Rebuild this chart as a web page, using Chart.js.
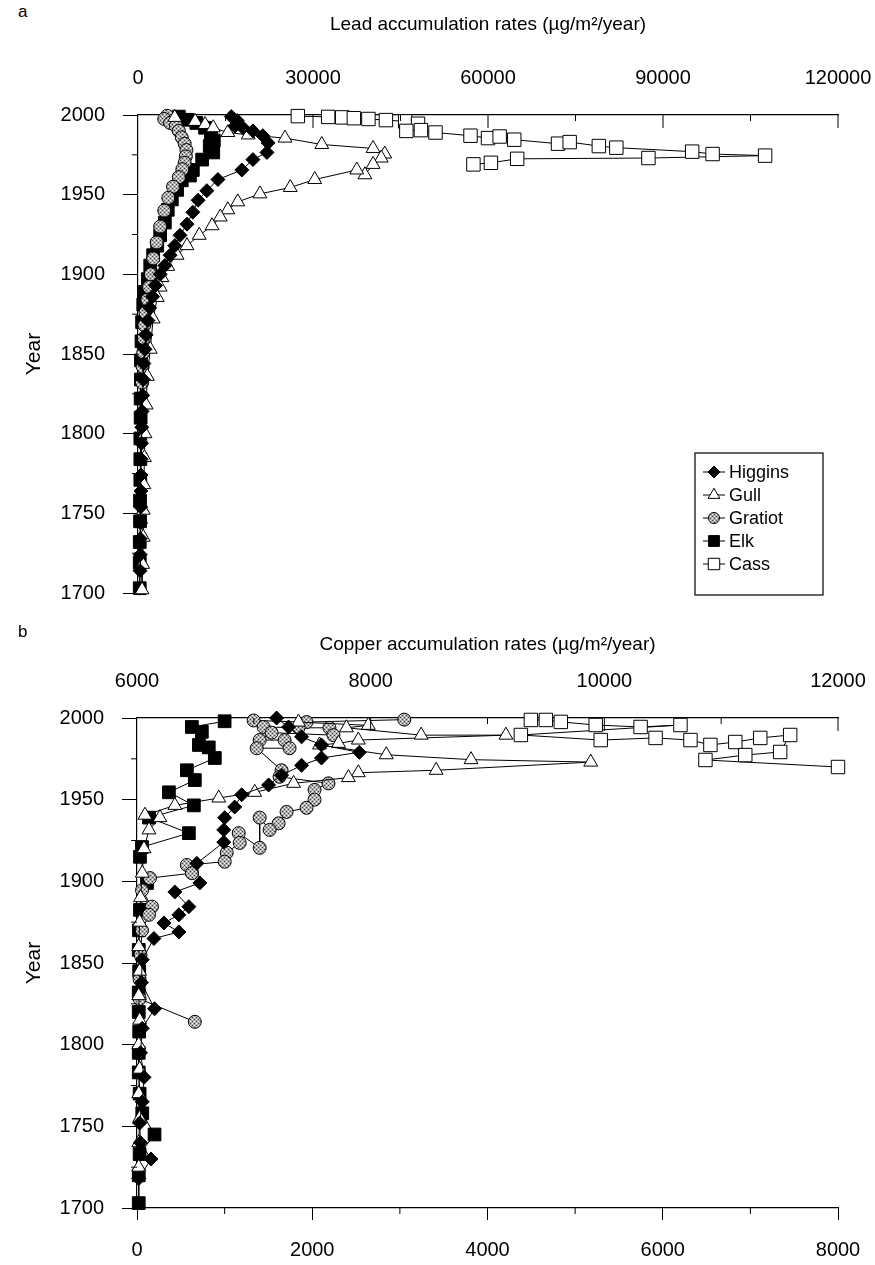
<!DOCTYPE html>
<html>
<head>
<meta charset="utf-8">
<script src="https://cdn.jsdelivr.net/npm/chart.js@4.4.1/dist/chart.umd.min.js"></script>
<style>
  html, body { margin: 0; padding: 0; background: #fff; }
  #page { position: relative; width: 875px; height: 1265px; font-family: "Liberation Sans", Arial, sans-serif; }
  #page canvas { position: absolute; left: 0; }
  .panel { position: absolute; left: 18px; font-size: 17px; color: #000; }
</style>
</head>
<body>
<div id="page">
  <div class="panel" style="top:2px">a</div>
  <canvas id="lead" width="875" height="625" style="top:0"></canvas>
  <div class="panel" style="top:622px">b</div>
  <canvas id="copper" width="875" height="640" style="top:625px"></canvas>
</div>
<script>
// ---- data: [rate, year] pairs ----
const seriesNames = ['Higgins', 'Gull', 'Gratiot', 'Elk', 'Cass'];

const leadHiggins = [[16000,1999],[17000,1996.5],[16600,1993],[18000,1992],[19700,1990],[21400,1987],[22300,1982.5],[22100,1976.5],[19700,1972],[17800,1965.5],[13700,1959.5],[11800,1952.5],[10300,1946.5],[9400,1939],[8400,1931.5],[7200,1924.5],[6300,1918],[5500,1912],[4600,1905.5],[3800,1900],[3000,1893],[2500,1886],[2000,1879],[1700,1871],[1400,1862],[1200,1853],[1000,1844],[900,1834],[800,1824],[700,1814],[650,1804],[600,1794],[550,1784],[500,1774],[500,1764],[450,1754],[450,1744],[400,1734],[400,1724],[350,1714]];
const leadGull = [[6300,1998.5],[9800,1996],[11500,1994],[12900,1992],[15400,1989],[18900,1987.5],[25200,1985.5],[31500,1981.5],[40300,1979],[42300,1975.5],[41700,1973],[40300,1969],[38900,1962.5],[37500,1965.5],[30300,1959.5],[26100,1954.5],[20900,1950.5],[17100,1945.5],[15400,1940.5],[14100,1936],[12700,1930.5],[10500,1924.5],[8400,1918],[6700,1912],[5100,1905],[4100,1898],[3800,1892],[3300,1885.5],[2600,1872],[2100,1853],[1600,1836],[1400,1818],[1200,1800],[1100,1785],[1000,1768],[900,1752],[900,1735],[800,1718],[700,1702]];
const leadGratiot = [[5000,1999.5],[4500,1997.5],[5500,1995],[6500,1993],[7000,1990],[7500,1986],[8000,1982],[8300,1978],[8200,1974],[8000,1970],[7600,1966],[7000,1961],[6000,1955],[5200,1948],[4500,1940],[3800,1930],[3200,1920],[2600,1910],[2200,1900],[1900,1892],[1600,1884],[1300,1876],[1100,1868],[1000,1860],[900,1851],[800,1842],[700,1832]];
const leadElk = [[7000,1999],[8500,1997],[10000,1995],[11500,1992],[12500,1988],[13000,1984],[12300,1980.5],[12900,1976.5],[11000,1972],[9400,1965.5],[8900,1962],[7500,1959],[6700,1953],[5800,1947],[5100,1940.5],[4600,1932.5],[3800,1924.5],[3300,1918],[2600,1912],[2100,1905.5],[1700,1897],[1200,1889],[900,1881],[700,1870],[600,1858],[500,1846],[500,1834],[450,1822],[450,1810],[400,1797],[400,1784],[400,1771],[350,1758],[350,1745],[300,1732],[300,1719],[300,1703]];
const leadCass = [[27400,1999.3],[32600,1998.8],[35000,1998.5],[37000,1998],[39500,1997.5],[42500,1996.8],[45800,1996],[48000,1994.5],[46000,1990],[48500,1990.5],[51000,1989],[57000,1987],[60000,1985.5],[62000,1986.5],[64500,1984.5],[72000,1982],[74000,1983],[79000,1980.5],[82000,1979.5],[95000,1977],[98500,1975.5],[107500,1974.5],[87500,1973],[65000,1972.5],[60500,1970],[57500,1969]];

const copperHiggins = [[1593,2000],[1730,1994.5],[1878,1988.5],[2105,1983.5],[2538,1979],[2105,1975.5],[1878,1971],[1650,1965],[1502,1959],[1195,1953],[1115,1945.5],[1001,1939],[990,1931.5],[990,1924],[683,1911],[717,1899],[432,1893.5],[592,1884.5],[478,1879.5],[307,1874.5],[478,1869],[193,1865],[60,1852],[50,1838],[200,1822],[60,1810],[40,1795],[80,1780],[60,1765],[30,1752],[40,1740],[160,1730],[20,1718]];
const copperGull = [[1843,1997.5],[2640,1995.5],[2390,1994],[3243,1989.5],[4210,1989.5],[2526,1986.5],[2300,1984.5],[2083,1983.5],[2845,1977.5],[3812,1974.5],[5178,1973],[3414,1968],[2526,1966.5],[2413,1963.5],[1787,1960],[1343,1954.5],[933,1951],[432,1946.5],[91,1940.5],[262,1939],[137,1931.5],[80,1920],[60,1905],[40,1890],[30,1875],[20,1860],[30,1845],[20,1830],[30,1815],[20,1800],[30,1785],[20,1770],[30,1755],[20,1740],[20,1725]];
const copperGratiot = [[3050,1999],[1935,1997.5],[1331,1998.5],[1445,1994.5],[1844,1994],[2196,1994],[2242,1989.5],[1536,1991],[1400,1986.5],[1684,1986.5],[1741,1981.5],[1366,1981.5],[1650,1968],[1627,1964],[2185,1960],[2026,1956],[2026,1950],[1935,1945],[1707,1942.5],[1616,1935.5],[1514,1931.5],[1400,1939],[1400,1920.5],[1161,1929.5],[1172,1923.5],[1024,1917.5],[1001,1912],[569,1910],[626,1905],[148,1902],[57,1894.5],[171,1884.5],[137,1879.5],[57,1870],[40,1855],[30,1840],[30,1828],[660,1814]];
const copperElk = [[1000,1998],[626,1994.5],[740,1991.5],[706,1983.5],[819,1982],[888,1975.5],[569,1968],[660,1962],[364,1954.5],[649,1946.5],[137,1939],[592,1929.5],[57,1921],[34,1915],[114,1899],[34,1882.5],[23,1870],[20,1858],[25,1845],[20,1832],[20,1820],[25,1808],[20,1795],[20,1783],[30,1770],[60,1758],[200,1745],[30,1733],[20,1720],[20,1703]];
const copperCass = [[4495,1998.8],[4666,1998.8],[4837,1997.6],[5235,1995.7],[5747,1994.5],[6202,1995.7],[4381,1989.6],[5292,1986.5],[5918,1987.8],[6316,1986.5],[6544,1983.5],[6828,1985.3],[7113,1987.8],[7454,1989.6],[7340,1979.2],[6942,1977.3],[6487,1974.3],[8000,1970]];

const leadRateTicks = [0, 30000, 60000, 90000, 120000];
const copperTopTicks = [6000, 8000, 10000, 12000];
const copperBottomTicks = [0, 2000, 4000, 6000, 8000];
const yearTicks = [1700, 1750, 1800, 1850, 1900, 1950, 2000];

// ---- styling ----
const FONT = '"Liberation Sans", Arial, sans-serif';
Chart.defaults.font.family = FONT;
Chart.defaults.color = '#000';

function speckle() {
  const c = document.createElement('canvas');
  c.width = 4; c.height = 4;
  const g = c.getContext('2d');
  g.fillStyle = '#b0b0b0'; g.fillRect(0, 0, 4, 4);
  g.fillStyle = '#444'; g.fillRect(0, 0, 1, 1); g.fillRect(2, 2, 1, 1);
  g.fillStyle = '#fff'; g.fillRect(2, 0, 1, 1); g.fillRect(0, 2, 1, 1);
  return g.createPattern(c, 'repeat');
}
const gratiotFill = speckle();

const markerStyles = {
  Higgins: { pointStyle: 'rectRot', radius: 7, fill: '#000' },
  Gull: { pointStyle: 'triangle', radius: 8, fill: '#fff' },
  Gratiot: { pointStyle: 'circle', radius: 6.5, fill: gratiotFill },
  Elk: { pointStyle: 'rect', radius: 9, fill: '#000' },
  Cass: { pointStyle: 'rect', radius: 9.5, fill: '#fff' }
};

function makeDataset(name, pairs) {
  const m = markerStyles[name];
  return {
    label: name,
    data: pairs.map(p => ({ x: p[0], y: p[1] })),
    showLine: true,
    borderColor: '#000',
    borderWidth: 1,
    pointStyle: m.pointStyle,
    pointRadius: m.radius,
    pointBackgroundColor: m.fill,
    pointBorderColor: '#000',
    pointBorderWidth: 1,
    clip: false
  };
}

// small tick marks the library does not draw (minor ticks, inward top ticks)
const tickMarks = {
  id: 'tickMarks',
  afterDraw(chart, args, opts) {
    const ctx = chart.ctx;
    ctx.save();
    ctx.strokeStyle = '#000';
    ctx.lineWidth = 1;
    (opts.marks || []).forEach(m => {
      const s = chart.scales[m.scale];
      m.values.forEach(v => {
        ctx.beginPath();
        if (s.isHorizontal()) {
          const x = s.getPixelForValue(v);
          const y0 = m.side === 'top' ? s.bottom : s.top;
          ctx.moveTo(x, y0);
          ctx.lineTo(x, y0 + m.len);
        } else {
          const y = s.getPixelForValue(v);
          ctx.moveTo(s.right, y);
          ctx.lineTo(s.right - m.len, y);
        }
        ctx.stroke();
      });
    });
    ctx.restore();
  }
};

// legend box placed inside the plot
const boxLegend = {
  id: 'boxLegend',
  afterDraw(chart, args, opts) {
    if (!opts.box) return;
    const ctx = chart.ctx;
    const b = opts.box;
    ctx.save();
    ctx.strokeStyle = '#000';
    ctx.lineWidth = 1.2;
    ctx.fillStyle = '#fff';
    ctx.fillRect(b.x, b.y, b.w, b.h);
    ctx.strokeRect(b.x, b.y, b.w, b.h);
    chart.data.datasets.forEach((ds, i) => {
      const y = b.y + b.first + i * b.step;
      const mx = b.x + b.markX;
      ctx.lineWidth = 1;
      ctx.strokeStyle = '#000';
      ctx.beginPath();
      ctx.moveTo(mx - 11, y);
      ctx.lineTo(mx + 11, y);
      ctx.stroke();
      ctx.fillStyle = ds.pointBackgroundColor;
      Chart.helpers.drawPoint(ctx, { pointStyle: ds.pointStyle, radius: ds.pointRadius * 0.85, borderWidth: 1, rotation: 0 }, mx, y);
      ctx.fillStyle = '#000';
      ctx.font = '18px ' + FONT;
      ctx.textBaseline = 'middle';
      ctx.fillText(ds.label, b.x + b.textX, y + 1);
    });
    ctx.restore();
  }
};

// keep the plot edges fixed: no extra room for overhanging end labels
function fixHeight(h) {
  return s => { s.height = h; s.paddingLeft = 0; s.paddingRight = 0; };
}

function yearAxis(width) {
  return {
    type: 'linear',
    position: 'left',
    min: 1700,
    max: 2000,
    afterBuildTicks: s => { s.ticks = yearTicks.map(v => ({ value: v })); },
    grid: { drawOnChartArea: false, drawTicks: true, tickLength: 15, tickColor: '#000' },
    border: { display: true, color: '#000', width: 1.2 },
    ticks: { padding: 18, font: { size: 20 }, callback: v => String(v) },
    title: { display: true, text: 'Year', font: { size: 21 }, padding: { top: 22, bottom: 0 } },
    afterFit: s => { s.width = width; s.paddingTop = 0; s.paddingBottom = 0; }
  };
}

// ---- panel a: lead ----
new Chart(document.getElementById('lead'), {
  type: 'scatter',
  data: {
    datasets: [
      makeDataset('Higgins', leadHiggins),
      makeDataset('Gull', leadGull),
      makeDataset('Gratiot', leadGratiot),
      makeDataset('Elk', leadElk),
      makeDataset('Cass', leadCass)
    ]
  },
  options: {
    responsive: false,
    animation: false,
    events: [],
    layout: { padding: { right: 37, bottom: 32 } },
    plugins: {
      legend: { display: false },
      tooltip: { enabled: false },
      tickMarks: {
        marks: [
          { scale: 'x', side: 'top', len: 13, values: [30000, 60000, 90000, 120000] },
          { scale: 'x', side: 'top', len: 6, values: [15000, 45000, 75000, 105000] },
          { scale: 'y', len: 6, values: [1725, 1775, 1825, 1875, 1925, 1975] }
        ]
      },
      boxLegend: { box: { x: 695, y: 453, w: 128, h: 142, first: 19, step: 23, markX: 19, textX: 34 } }
    },
    scales: {
      x: {
        type: 'linear',
        position: 'top',
        min: 0,
        max: 120000,
        afterBuildTicks: s => { s.ticks = leadRateTicks.map(v => ({ value: v })); },
        grid: { drawOnChartArea: false, drawTicks: false },
        border: { display: true, color: '#000', width: 1.2 },
        ticks: { padding: 25, font: { size: 20 }, maxRotation: 0, callback: v => String(v) },
        title: { display: true, text: 'Lead accumulation rates (\u00b5g/m\u00b2/year)', font: { size: 19 }, padding: { top: 13, bottom: 0 } },
        afterFit: fixHeight(115)
      },
      y: yearAxis(138)
    }
  },
  plugins: [tickMarks, boxLegend]
});

// ---- panel b: copper ----
new Chart(document.getElementById('copper'), {
  type: 'scatter',
  data: {
    datasets: [
      makeDataset('Higgins', copperHiggins),
      makeDataset('Gull', copperGull),
      makeDataset('Gratiot', copperGratiot),
      makeDataset('Elk', copperElk),
      makeDataset('Cass', copperCass)
    ]
  },
  options: {
    responsive: false,
    animation: false,
    events: [],
    layout: { padding: { right: 37 } },
    plugins: {
      legend: { display: false },
      tooltip: { enabled: false },
      tickMarks: {
        marks: [
          { scale: 'xt', side: 'top', len: 13, values: [8000, 10000, 12000] },
          { scale: 'xt', side: 'top', len: 6, values: [7000, 9000, 11000] },
          { scale: 'x', side: 'bottom', len: 6, values: [1000, 3000, 5000, 7000] },
          { scale: 'y', len: 6, values: [1725, 1775, 1825, 1875, 1925, 1975] }
        ]
      }
    },
    scales: {
      x: {
        type: 'linear',
        position: 'bottom',
        min: 0,
        max: 8000,
        afterBuildTicks: s => { s.ticks = copperBottomTicks.map(v => ({ value: v })); },
        grid: { drawOnChartArea: false, drawTicks: true, tickLength: 12, tickColor: '#000' },
        border: { display: true, color: '#000', width: 1.2 },
        ticks: { padding: 18, font: { size: 20 }, maxRotation: 0, callback: v => String(v) },
        afterFit: fixHeight(57)
      },
      xt: {
        type: 'linear',
        position: 'top',
        min: 6000,
        max: 12000,
        afterBuildTicks: s => { s.ticks = copperTopTicks.map(v => ({ value: v })); },
        grid: { drawOnChartArea: false, drawTicks: false },
        border: { display: true, color: '#000', width: 1.2 },
        ticks: { padding: 25, font: { size: 20 }, maxRotation: 0, callback: v => String(v) },
        title: { display: true, text: 'Copper accumulation rates (\u00b5g/m\u00b2/year)', font: { size: 19 }, padding: { top: 8, bottom: 0 } },
        afterFit: fixHeight(93)
      },
      y: yearAxis(137)
    }
  },
  plugins: [tickMarks]
});
</script>
</body>
</html>
